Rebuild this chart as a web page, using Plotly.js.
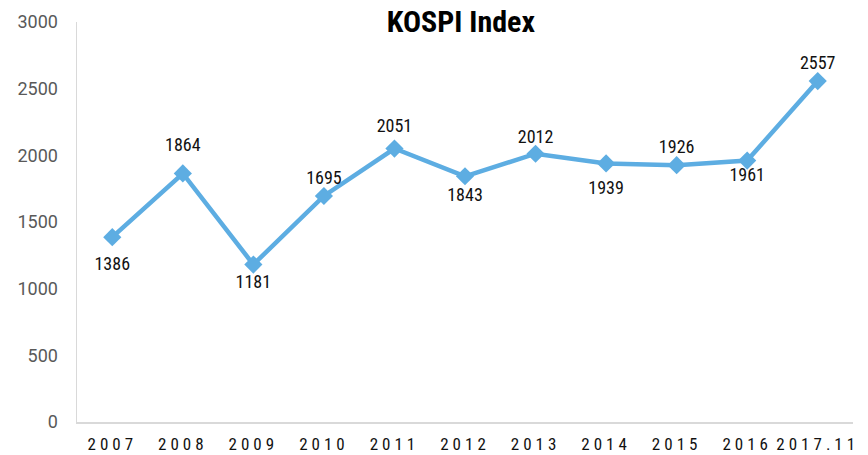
<!DOCTYPE html>
<html>
<head>
<meta charset="utf-8">
<script src="https://cdn.plot.ly/plotly-3.0.1.min.js"></script>
<style>
html,body{margin:0;padding:0;background:#fff;}
#chart{width:868px;height:455px;}
#chart .xtick text{letter-spacing:4px;}
</style>
</head>
<body>
<div id="chart"></div>
<script>
const categories = ["2007","2008","2009","2010","2011","2012","2013","2014","2015","2016","2017.11"];
const kospi = [1386, 1864, 1181, 1695, 2051, 1843, 2012, 1939, 1926, 1961, 2557];
const labelPos = ["bottom center","top center","bottom center","top center","top center","bottom center","top center","bottom center","top center","bottom center","top center"];
const yTicks = [0, 500, 1000, 1500, 2000, 2500, 3000];

const NARROW = '"Roboto Condensed", Roboto, "DejaVu Sans Condensed", sans-serif';
const REG = 'Roboto, "Liberation Sans", sans-serif';

Plotly.newPlot('chart', [{
  x: categories,
  y: kospi,
  type: 'scatter',
  mode: 'lines+markers',
  line: {color: '#5DADE2', width: 4.5},
  marker: {symbol: 'diamond', size: 14, color: '#5DADE2'},
  cliponaxis: false,
  hoverinfo: 'none'
}, {
  x: categories,
  y: kospi,
  type: 'scatter',
  mode: 'markers+text',
  text: kospi.map(String),
  textposition: labelPos,
  textfont: {family: NARROW, size: 18, color: '#111'},
  // invisible spacer markers: control the gap between each point and its label
  marker: {size: [29, 27, 15, 11, 17, 17, 9, 25, 11, 9, 11], opacity: 0, color: '#fff'},
  cliponaxis: false,
  hoverinfo: 'none'
}], {
  width: 868, height: 455,
  margin: {l: 77, r: 15, t: 22, b: 33},
  paper_bgcolor: '#fff', plot_bgcolor: '#fff',
  showlegend: false,
  title: {text: '<b>KOSPI Index</b>', x: 0.531, xanchor: 'center', y: 0.953, yanchor: 'middle',
          font: {family: NARROW, size: 30, color: '#000'}},
  xaxis: {type: 'category', range: [-0.5, 10.5], autorange: false, showgrid: false, zeroline: false, showline: true,
          linecolor: '#d9d9d9', linewidth: 1.5, ticks: '', ticklabelstandoff: 6,
          tickfont: {family: NARROW, size: 17, color: '#111'}},
  yaxis: {range: [0, 3000], autorange: false, tickvals: yTicks, showgrid: false, zeroline: false,
          showline: true, linecolor: '#d9d9d9', linewidth: 1.5, ticks: '',
          ticklabelstandoff: 14,
          tickfont: {family: REG, size: 18, color: '#595959'}}
}, {displayModeBar: false, staticPlot: true});
</script>
</body>
</html>
